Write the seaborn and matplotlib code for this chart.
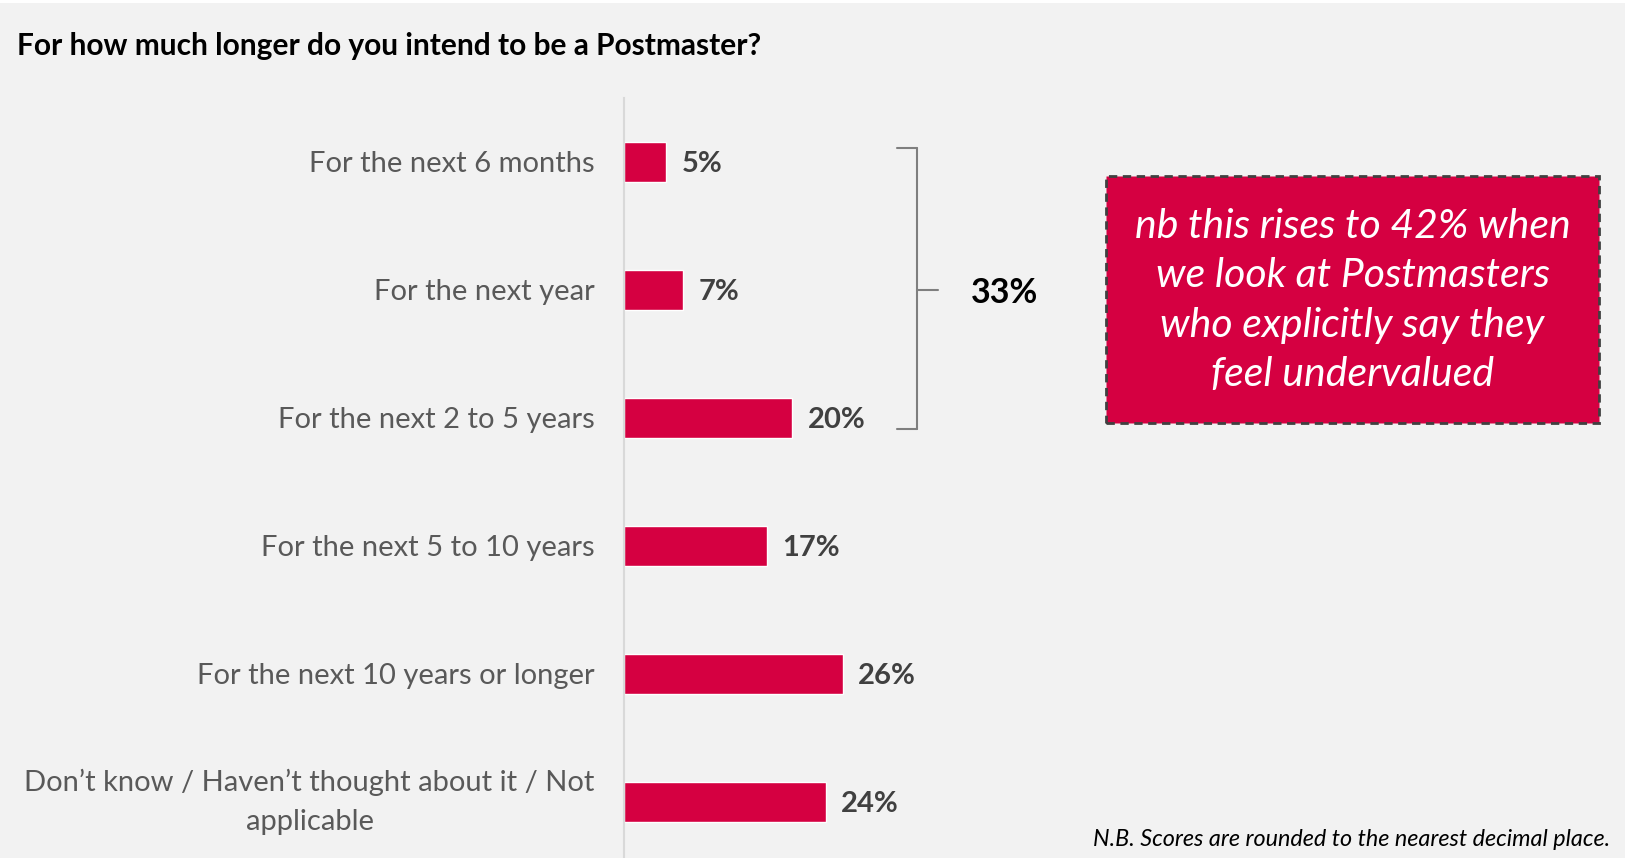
import matplotlib
matplotlib.use("Agg")
import matplotlib.pyplot as plt
import seaborn as sns
import pandas as pd
from matplotlib.patches import Rectangle
from matplotlib.lines import Line2D

# Survey answers and shares (%)
categories = [
    "For the next 6 months",
    "For the next year",
    "For the next 2 to 5 years",
    "For the next 5 to 10 years",
    "For the next 10 years or longer",
    "Don\u2019t know / Haven\u2019t thought about it / Not\napplicable",
]
values = [5, 7, 20, 17, 26, 24]
group_total = 33  # leaving within five years
title = "For how much longer do you intend to be a Postmaster?"
callout = ("nb this rises to 42% when\nwe look at Postmasters\n"
           "who explicitly say they\nfeel undervalued")
footnote = "N.B. Scores are rounded to the nearest decimal place."

BG = "#F2F2F2"
BAR = "#D50041"
W, H = 1625, 858

sns.set_theme(style="white")
plt.rcParams["font.family"] = ["Lato", "DejaVu Sans"]

fig = plt.figure(figsize=(W / 100, H / 100), dpi=100, facecolor="white")
# light grey slide background (thin white strip at the very top)
fig.patches.append(Rectangle((0, 0), 1, (H - 3) / H, transform=fig.transFigure,
                             facecolor=BG, edgecolor="none", zorder=-10))

def fx(px):
    return px / W

def fy(py):
    return 1 - py / H

ax_left, ax_top = 624, 98
ax = fig.add_axes([fx(ax_left), 0, 1 - fx(ax_left), 1 - ax_top / H])
ax.set_facecolor("none")

df = pd.DataFrame({"category": categories, "value": values})
sns.barplot(data=df, x="value", y="category", orient="h", color=BAR,
            width=0.31, saturation=1, ax=ax)

ax.set_xlim(0, (W - ax_left) / 8.42)
ax.set_ylim(5.44, -0.5)
ax.set_xlabel("")
ax.set_ylabel("")
ax.set_xticks([])
for s in ["top", "right", "bottom"]:
    ax.spines[s].set_visible(False)
ax.spines["left"].set_color("#D9D9D9")
ax.spines["left"].set_linewidth(1.5)
ax.tick_params(axis="y", length=0, pad=21)
ax.set_yticks(range(len(categories)))
ax.set_yticklabels(categories, fontsize=21, color="#595959",
                   linespacing=1.6, ha="right")
for lbl in ax.get_yticklabels():
    lbl.set_multialignment("center")
    if "\n" in lbl.get_text():
        lbl.set_verticalalignment("center")

for i, v in enumerate(values):
    ax.annotate(f"{v}%", (v, i), xytext=(11, -1.5), textcoords="offset points",
                ha="left", va="center", fontsize=21, fontweight="bold",
                color="#404040")

# bracket grouping the first three answers
bc = "#7F7F7F"
bx0, bx1, bxm = fx(897), fx(917), fx(938)
by0, by1, bym = fy(148), fy(429), fy(290)
for xs, ys in [([bx0, bx1], [by0, by0]), ([bx0, bx1], [by1, by1]),
               ([bx1, bx1], [by0, by1]), ([bx1, bxm], [bym, bym])]:
    fig.add_artist(Line2D(xs, ys, color=bc, lw=1.5, transform=fig.transFigure))
fig.text(fx(1005), fy(293), f"{group_total}%", ha="center", va="center",
         fontsize=24.5, fontweight="bold", color="black")

# call-out box
bx, by, bw, bh = 1106, 176, 493, 247
fig.patches.append(Rectangle((fx(bx), fy(by + bh)), bw / W, bh / H,
                             transform=fig.transFigure, facecolor=BAR,
                             edgecolor="#404040", linewidth=2,
                             linestyle=(0, (3, 2))))
fig.text(fx(bx + bw / 2), fy(by + bh / 2 + 1), callout, ha="center",
         va="center", fontsize=29.5, style="italic", color="white",
         linespacing=1.42)

fig.text(fx(17), fy(46), title, ha="left", va="center", fontsize=21.5,
         fontweight="bold", color="black")
fig.text(fx(1610), fy(839), footnote, ha="right", va="center",
         fontsize=16.8, style="italic", color="black")

fig.savefig("out.png", dpi=100, facecolor=fig.get_facecolor())
